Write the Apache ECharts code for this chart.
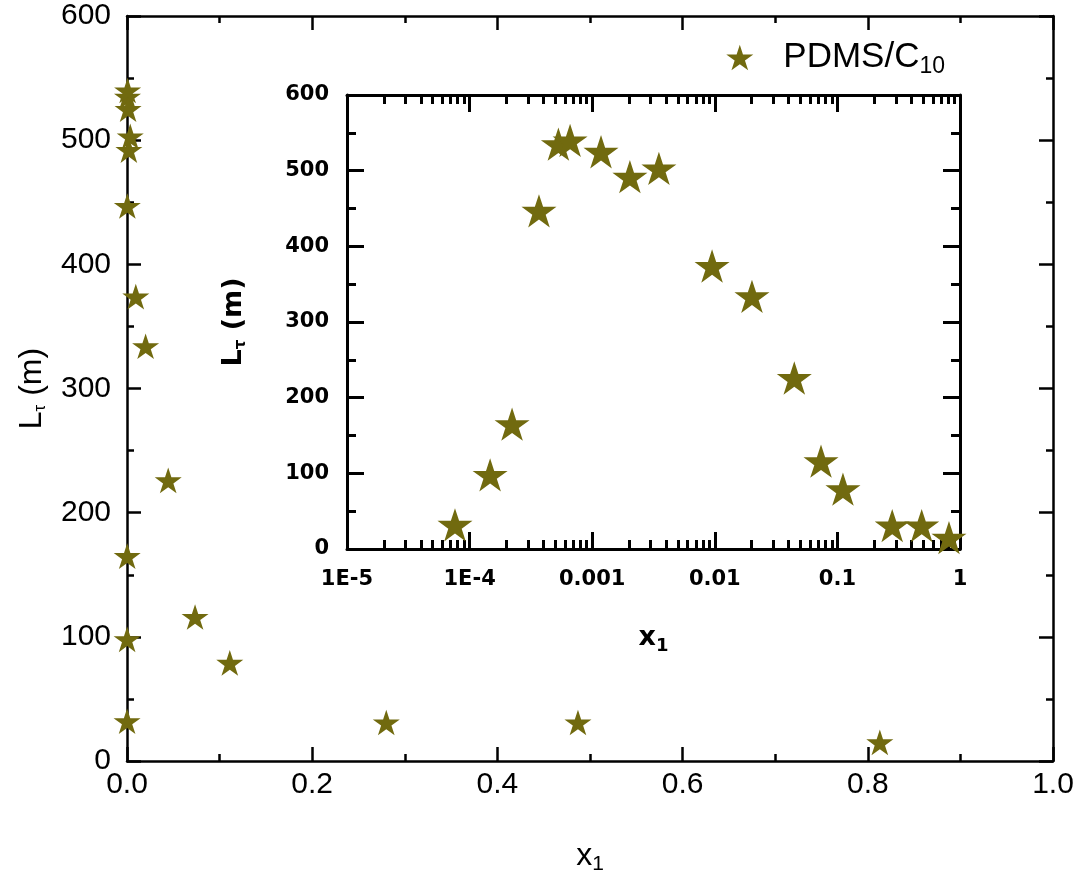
<!DOCTYPE html>
<html><head><meta charset="utf-8">
<script src="https://cdn.jsdelivr.net/npm/echarts@6/dist/echarts.min.js"></script>
<style>html,body{margin:0;padding:0;background:#fff}#c{width:1074px;height:873px}</style>
</head><body><div id="c"></div>
<script>
// ---- data ----
const seriesName = 'PDMS/C10';
const x1Values = [7.6e-5, 1.47e-4, 2.22e-4, 3.68e-4, 5.3e-4, 6.6e-4, 1.18e-3, 2.03e-3, 3.5e-3, 9.5e-3, 0.0201, 0.0445, 0.0735, 0.111, 0.28, 0.487, 0.813];
const lTauValues = [32, 98, 165, 447, 535, 540, 525, 492, 503, 374, 334, 226, 116, 79, 31, 31, 15];
const mainXTickLabels = ['0.0', '0.2', '0.4', '0.6', '0.8', '1.0'];
const insetXTickLabels = ['1E-5', '1E-4', '0.001', '0.01', '0.1', '1'];

const points = x1Values.map((x, i) => [x, lTauValues[i]]);
const STAR = 'path://M50,0 L61.2,34.5 L97.6,34.5 L68.2,55.9 L79.4,90.5 L50,69.1 L20.6,90.5 L31.8,55.9 L2.4,34.5 L38.8,34.5 Z';
const COLOR = '#716a0f';
const BLACK = '#000';

function valAxis(o) {
  return Object.assign({
    type: 'value',
    axisLine: { show: true, onZero: false, lineStyle: { color: BLACK, width: 2.5 } },
    axisTick: { show: true, inside: true, length: 14, lineStyle: { color: BLACK, width: 2.5 } },
    minorTick: { show: true, splitNumber: 2, length: 7, lineStyle: { color: BLACK, width: 2.5 } },
    splitLine: { show: false },
    minorSplitLine: { show: false },
    axisLabel: { show: false }
  }, o);
}
const mainFont = 'Liberation Sans, Arial, sans-serif';
const insetFont = 'DejaVu Sans, sans-serif';
const mainLabel = { show: true, color: BLACK, fontSize: 30, fontFamily: mainFont };
const insetLabel = { show: true, color: BLACK, fontSize: 21, fontWeight: 'bold', fontFamily: insetFont };
const insetLine = { show: true, onZero: false, lineStyle: { color: BLACK, width: 3 } };
const insetTick = { show: true, inside: true, length: 17, lineStyle: { color: BLACK, width: 3 } };
const insetMinor = { show: true, splitNumber: 2, length: 9, lineStyle: { color: BLACK, width: 3 } };

const chart = echarts.init(document.getElementById('c'), null, { renderer: 'canvas' });
chart.setOption({
  animation: false,
  backgroundColor: '#fff',
  grid: [
    { left: 127, right: 21, top: 16, bottom: 112, containLabel: false, outerBoundsMode: 'none' },
    { left: 347, right: 114, top: 95, bottom: 324, containLabel: false, outerBoundsMode: 'none',
      show: true, backgroundColor: '#fff', borderWidth: 0 }
  ],
  legend: {
    data: [seriesName],
    right: 124, top: 35,
    icon: STAR, itemWidth: 27, itemHeight: 27,
    formatter: () => '{a|PDMS/C}{s|10}',
    textStyle: {
      padding: [0, 0, 0, 25],
      rich: {
        a: { fontSize: 35, fontFamily: mainFont, color: BLACK },
        s: { fontSize: 23, fontFamily: mainFont, color: BLACK, padding: [19, 0, 0, 0] }
      }
    }
  },
  xAxis: [
    valAxis({ gridIndex: 0, position: 'bottom', min: 0, max: 1, interval: 0.2,
      axisLabel: Object.assign({}, mainLabel, { margin: 9, formatter: (v) => mainXTickLabels[Math.round(v / 0.2)] }),
      name: '{a|x}{s|1}', nameLocation: 'middle', nameGap: 76,
      nameTextStyle: { rich: {
        a: { fontSize: 32, fontFamily: mainFont, color: BLACK },
        s: { fontSize: 21, fontFamily: mainFont, color: BLACK, padding: [17, 0, 0, 0] } } } }),
    valAxis({ gridIndex: 0, position: 'top', min: 0, max: 1, interval: 0.2 }),
    valAxis({ gridIndex: 1, type: 'log', logBase: 10, position: 'bottom', min: 1e-5, max: 1, splitNumber: 5,
      axisLine: insetLine, axisTick: insetTick,
      minorTick: Object.assign({}, insetMinor, { splitNumber: 9 }),
      axisLabel: Object.assign({}, insetLabel, { margin: 20, formatter: (v) => insetXTickLabels[Math.round(Math.log10(v)) + 5] }),
      name: '{a|x}{s|1}', nameLocation: 'middle', nameGap: 72,
      nameTextStyle: { rich: {
        a: { fontSize: 27, fontWeight: 'bold', fontFamily: insetFont, color: BLACK },
        s: { fontSize: 18, fontWeight: 'bold', fontFamily: insetFont, color: BLACK, padding: [16, 0, 0, 0] } } } }),
    valAxis({ gridIndex: 1, type: 'log', logBase: 10, position: 'top', min: 1e-5, max: 1, splitNumber: 5,
      axisLine: insetLine, axisTick: insetTick,
      minorTick: Object.assign({}, insetMinor, { splitNumber: 9 }) })
  ],
  yAxis: [
    valAxis({ gridIndex: 0, position: 'left', min: 0, max: 600, interval: 100,
      axisLabel: Object.assign({}, mainLabel, { margin: 16 }),
      name: '{a|L}{s|τ}{a| (m)}', nameLocation: 'middle', nameGap: 78, nameRotate: 90,
      nameTextStyle: { rich: {
        a: { fontSize: 32, fontFamily: mainFont, color: BLACK },
        s: { fontSize: 17, fontFamily: mainFont, color: BLACK, padding: [17, 0, 0, 0] } } } }),
    valAxis({ gridIndex: 0, position: 'right', min: 0, max: 600, interval: 100 }),
    valAxis({ gridIndex: 1, position: 'left', min: 0, max: 600, interval: 100,
      axisLine: insetLine, axisTick: insetTick, minorTick: insetMinor,
      axisLabel: Object.assign({}, insetLabel, { margin: 18 }),
      name: '{a|L}{s|τ}{a| (m)}', nameLocation: 'middle', nameGap: 98, nameRotate: 90,
      nameTextStyle: { rich: {
        a: { fontSize: 27, fontWeight: 'bold', fontFamily: insetFont, color: BLACK },
        s: { fontSize: 15, fontWeight: 'bold', fontFamily: insetFont, color: BLACK, padding: [15, 0, 0, 0] } } } }),
    valAxis({ gridIndex: 1, position: 'right', min: 0, max: 600, interval: 100,
      axisLine: insetLine, axisTick: insetTick, minorTick: insetMinor })
  ],
  series: [
    { name: seriesName, type: 'scatter', xAxisIndex: 0, yAxisIndex: 0, data: points,
      symbol: STAR, symbolSize: 27, symbolKeepAspect: true, itemStyle: { color: COLOR, opacity: 1 }, z: 3 },
    { name: seriesName, type: 'scatter', xAxisIndex: 2, yAxisIndex: 2, data: points,
      symbol: STAR, symbolSize: 35, symbolKeepAspect: true, itemStyle: { color: COLOR, opacity: 1 }, z: 3 }
  ]
});
</script>
</body></html>
